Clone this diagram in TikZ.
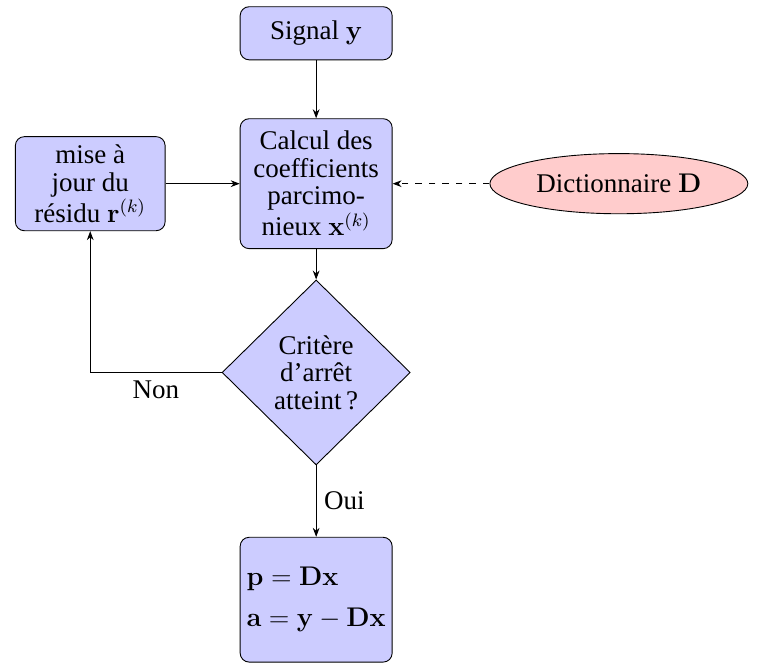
\documentclass[tikz,border=0pt]{standalone}
\usepackage{amsmath}
\usepackage[no-math]{fontspec}
\setmainfont{LiberationSerif-Regular.ttf}[BoldFont=LiberationSerif-Bold.ttf,
  ItalicFont=LiberationSerif-Italic.ttf]
\usetikzlibrary{calc, positioning, arrows.meta, shapes.geometric}

\begin{document}
\begin{tikzpicture}[
  font=\fontsize{12}{12.2}\selectfont,
  block/.style={rectangle, draw, fill=blue!20, rounded corners, align=center,
    minimum width=2.375cm, inner sep=3pt},
  decision/.style={diamond, draw, fill=blue!20, align=center, aspect=1,
    minimum width=2.94cm, minimum height=2.89cm, inner sep=1pt},
  cloud/.style={ellipse, draw, fill=red!20, minimum width=4.03cm, minimum height=0.94cm},
  line/.style={draw, -{Stealth[length=4pt, width=3pt]}}
]
\useasboundingbox (0,0) rectangle (12,-10.39);

% Main column
\node[block, minimum height=0.83cm] (signal) at (4.94,-0.52) {Signal $\mathbf{y}$};
\node[block, minimum height=2.03cm] (calcul) at (4.94,-2.87)
  {Calcul des\\coefficients\\parcimo-\\nieux $\mathbf{x}^{(k)}$};
\node[decision] (critere) at (4.94,-5.82) {Critère\\d'arrêt\\atteint\,?};
\node[block, minimum height=1.95cm, align=left, inner sep=1pt] (sortie) at (4.94,-9.37)
  {\\[-4pt]$\mathbf{p}=\mathbf{Dx}$\\[6pt]$\mathbf{a}=\mathbf{y}-\mathbf{Dx}$};

% Side nodes
\node[block, minimum width=2.34cm, minimum height=1.47cm] (residu) at (1.41,-2.87)
  {mise à\\jour du\\résidu $\mathbf{r}^{(k)}$};
\node[cloud] (dico) at (9.67,-2.87) {Dictionnaire $\mathbf{D}$};

% Connections
\path[line] (signal) -- (calcul);
\path[line] (calcul) -- (critere);
\path[line] (residu) -- (calcul);
\path[line, dashed] (dico) -- (calcul);
\path[line] (critere) -- node[right] {Oui} (sortie);
\path[line] (critere.west) -| node[pos=0.25, below] {Non} (residu.south);
\end{tikzpicture}
\end{document}
